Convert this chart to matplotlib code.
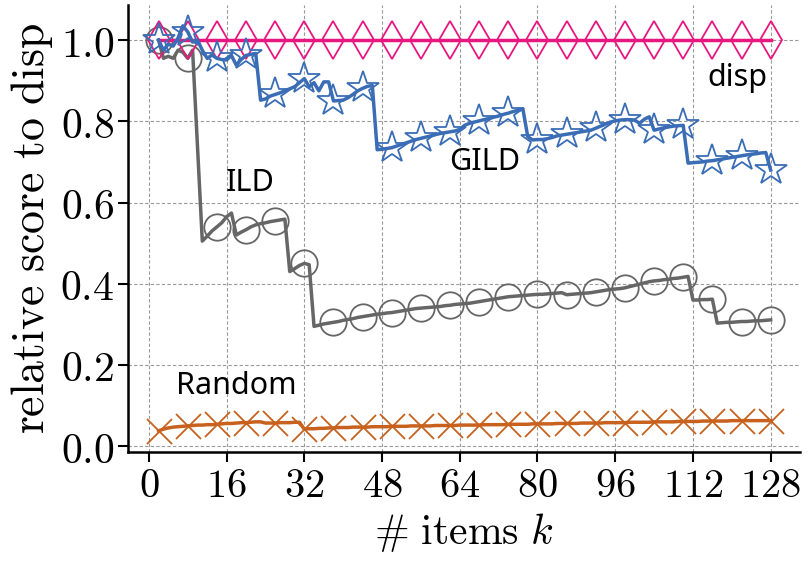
import numpy as np
import matplotlib
matplotlib.use("Agg")
import matplotlib.pyplot as plt

plt.rcParams['mathtext.fontset'] = 'cm'

# number of items k (2..128)
k = np.arange(2, 129)

gild = [
    1.000, 0.975, 0.990, 0.985, 1.005, 1.035, 1.020, 0.995, 1.000, 0.975,
    0.955, 0.963, 0.955, 0.952, 0.951, 0.962, 0.938, 0.952, 0.962, 0.965,
    0.967, 0.852, 0.855, 0.862, 0.866, 0.870, 0.875, 0.880, 0.885, 0.895,
    0.905, 0.885, 0.895, 0.875, 0.897, 0.897, 0.850, 0.851, 0.852, 0.858,
    0.866, 0.875, 0.881, 0.886, 0.888, 0.730, 0.731, 0.733, 0.735, 0.739,
    0.743, 0.747, 0.751, 0.755, 0.758, 0.761, 0.764, 0.767, 0.770, 0.772,
    0.774, 0.776, 0.780, 0.790, 0.795, 0.798, 0.801, 0.804, 0.807, 0.810,
    0.813, 0.817, 0.820, 0.824, 0.827, 0.830, 0.762, 0.754, 0.755, 0.755,
    0.757, 0.760, 0.764, 0.766, 0.768, 0.770, 0.772, 0.774, 0.776, 0.778,
    0.783, 0.788, 0.793, 0.798, 0.801, 0.803, 0.804, 0.804, 0.803, 0.795,
    0.805, 0.811, 0.778, 0.781, 0.784, 0.786, 0.788, 0.789, 0.790, 0.697,
    0.698, 0.699, 0.700, 0.702, 0.703, 0.705, 0.707, 0.709, 0.711, 0.713,
    0.715, 0.717, 0.719, 0.720, 0.722, 0.723, 0.680,
]

ild = [
    1.000, 0.955, 0.960, 0.955, 0.975, 0.970, 0.955, 0.975, 0.740, 0.505,
    0.517, 0.530, 0.540, 0.550, 0.565, 0.574, 0.520, 0.527, 0.533, 0.540,
    0.545, 0.548, 0.550, 0.553, 0.555, 0.557, 0.559, 0.430, 0.437, 0.445,
    0.450, 0.447, 0.295, 0.298, 0.301, 0.303, 0.305, 0.307, 0.310, 0.312,
    0.314, 0.317, 0.319, 0.321, 0.323, 0.325, 0.326, 0.328, 0.329, 0.331,
    0.333, 0.335, 0.337, 0.339, 0.340, 0.341, 0.342, 0.343, 0.344, 0.346,
    0.347, 0.349, 0.350, 0.351, 0.352, 0.354, 0.356, 0.358, 0.360, 0.362,
    0.364, 0.366, 0.368, 0.369, 0.370, 0.371, 0.372, 0.373, 0.374, 0.374,
    0.375, 0.376, 0.377, 0.378, 0.373, 0.374, 0.375, 0.376, 0.377, 0.378,
    0.380, 0.382, 0.384, 0.386, 0.387, 0.388, 0.390, 0.393, 0.396, 0.399,
    0.402, 0.405, 0.407, 0.408, 0.410, 0.411, 0.413, 0.414, 0.416, 0.418,
    0.360, 0.360, 0.361, 0.361, 0.362, 0.303, 0.304, 0.305, 0.305, 0.306,
    0.307, 0.307, 0.308, 0.309, 0.309, 0.310, 0.311,
]

random_ = [
    0.038, 0.042, 0.045, 0.047, 0.048, 0.049, 0.050, 0.051, 0.052, 0.052,
    0.053, 0.053, 0.054, 0.055, 0.056, 0.056, 0.057, 0.058, 0.058, 0.059,
    0.060, 0.060, 0.057, 0.057, 0.057, 0.058, 0.058, 0.058, 0.059, 0.059,
    0.042, 0.043, 0.043, 0.044, 0.044, 0.045, 0.045, 0.046, 0.046, 0.046,
    0.047, 0.047, 0.047, 0.047, 0.048, 0.048, 0.048, 0.048, 0.049, 0.049,
    0.049, 0.049, 0.050, 0.050, 0.050, 0.050, 0.050, 0.051, 0.051, 0.051,
    0.051, 0.051, 0.052, 0.052, 0.052, 0.052, 0.052, 0.053, 0.053, 0.053,
    0.053, 0.053, 0.054, 0.054, 0.054, 0.054, 0.054, 0.055, 0.055, 0.055,
    0.055, 0.055, 0.056, 0.056, 0.056, 0.056, 0.056, 0.057, 0.057, 0.057,
    0.057, 0.057, 0.058, 0.058, 0.058, 0.058, 0.058, 0.059, 0.059, 0.059,
    0.059, 0.059, 0.060, 0.060, 0.060, 0.060, 0.060, 0.061, 0.061, 0.061,
    0.061, 0.061, 0.062, 0.062, 0.062, 0.062, 0.062, 0.062, 0.063, 0.063,
    0.063, 0.063, 0.063, 0.063, 0.063, 0.063, 0.063,
]

# disp is the reference, so its relative score is 1 everywhere
disp = [1.0] * len(k)

xticks = [0, 16, 32, 48, 64, 80, 96, 112, 128]
yticks = [0.0, 0.2, 0.4, 0.6, 0.8, 1.0]

fig = plt.figure(figsize=(8.1, 5.67), dpi=100)
ax = fig.add_axes([0.158, 0.203, 0.83, 0.788])

ax.plot(k, ild, color='#666666', lw=2.5, marker='o', ms=19, mfc='none',
        mew=1.3, markevery=6, zorder=3)
ax.plot(k, disp, color='#e8177f', lw=2.5, marker='d', ms=19, mfc='none',
        mew=1.3, markevery=6, zorder=4)
ax.plot(k, gild, color='#3a6db5', lw=2.5, marker='*', ms=24, mfc='none',
        mew=1.3, markevery=6, zorder=5)
ax.plot(k, random_, color='#c8611e', lw=2.5, marker='x', ms=18,
        mew=1.3, markevery=6, zorder=3)

lab_font = dict(family='Noto Sans', fontsize=22)
ax.text(121.2, 0.907, 'disp', ha='center', va='center', **lab_font)
ax.text(69.2, 0.70, 'GILD', ha='center', va='center', **lab_font)
ax.text(20.8, 0.648, 'ILD', ha='center', va='center', **lab_font)
ax.text(18.0, 0.148, 'Random', ha='center', va='center', **lab_font)

ax.set_xlim(-4.3, 134.1)
ax.set_ylim(-0.014, 1.086)
ax.set_xticks(xticks)
ax.set_xticklabels([f'${t}$' for t in xticks], fontsize=29)
ax.set_yticks(yticks)
ax.set_yticklabels([f'${t:.1f}$' for t in yticks], fontsize=30)
ax.set_xlabel(r'$\#\ \mathrm{items}\ k$', fontsize=30, labelpad=4)
ax.set_ylabel(r'$\mathrm{relative\ score\ to\ disp}$', fontsize=33, labelpad=4)

ax.grid(True, ls=(0, (3, 2)), color='#999999', lw=0.8)
ax.set_axisbelow(True)
for s in ['top', 'right']:
    ax.spines[s].set_visible(False)
for s in ['left', 'bottom']:
    ax.spines[s].set_linewidth(1.8)
ax.tick_params(length=7, width=1.5, pad=3)

fig.savefig('out.png', dpi=100)
